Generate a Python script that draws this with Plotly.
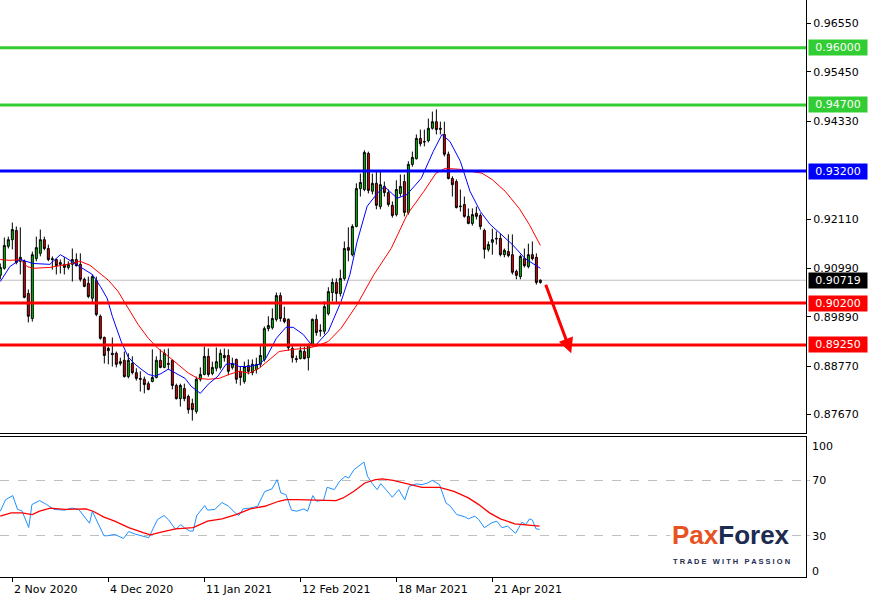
import plotly.graph_objects as go

# ---------------- data ----------------
bar_index = list(range(136))
opens = [0.9083,0.9099,0.9149,0.9164,0.9185,0.9115,0.9115,0.9042,0.8985,0.9121,
         0.9133,0.9164,0.9144,0.9121,0.9119,0.9108,0.9108,0.9101,0.9108,0.9119,
         0.9108,0.9074,0.9065,0.9031,0.9071,0.8990,0.8942,0.8917,0.8906,0.8906,
         0.8883,0.8890,0.8853,0.8883,0.8862,0.8849,0.8847,0.8837,0.8842,0.8851,
         0.8890,0.8874,0.8883,0.8890,0.8833,0.8803,0.8826,0.8808,0.8792,0.8774,
         0.8847,0.8858,0.8899,0.8860,0.8872,0.8874,0.8901,0.8901,0.8874,0.8892,
         0.8865,0.8842,0.8878,0.8862,0.8869,0.8881,0.8892,0.8962,0.8964,0.8983,
         0.9037,0.8985,0.8983,0.8917,0.8894,0.8894,0.8910,0.8896,0.8926,0.8983,
         0.8956,0.8956,0.8996,0.9044,0.9067,0.9042,0.9076,0.9146,0.9130,0.9194,
         0.9280,0.9278,0.9360,0.9274,0.9292,0.9239,0.9285,0.9271,0.9242,0.9221,
         0.9269,0.9296,0.9226,0.9335,0.9348,0.9394,0.9387,0.9389,0.9417,0.9432,
         0.9417,0.9403,0.9358,0.9303,0.9296,0.9239,0.9244,0.9217,0.9201,0.9224,
         0.9219,0.9185,0.9142,0.9158,0.9167,0.9167,0.9130,0.9137,0.9130,0.9092,
         0.9080,0.9121,0.9103,0.9130,0.9124,0.9067]
highs = [0.9110,0.9169,0.9171,0.9203,0.9194,0.9192,0.9119,0.9051,0.9137,0.9171,
         0.9187,0.9171,0.9153,0.9126,0.9121,0.9119,0.9124,0.9115,0.9144,0.9133,
         0.9133,0.9078,0.9080,0.9085,0.9080,0.8994,0.8944,0.8921,0.8942,0.8910,
         0.8896,0.8910,0.8906,0.8899,0.8872,0.8865,0.8853,0.8842,0.8915,0.8899,
         0.8915,0.8915,0.8917,0.8892,0.8837,0.8837,0.8837,0.8812,0.8803,0.8853,
         0.8874,0.8921,0.8917,0.8887,0.8919,0.8915,0.8917,0.8915,0.8896,0.8894,
         0.8876,0.8887,0.8892,0.8892,0.8896,0.8924,0.8967,0.8990,0.9008,0.9044,
         0.9044,0.9012,0.8985,0.8926,0.8901,0.8921,0.8921,0.8928,0.8985,0.8994,
         0.8972,0.9024,0.9056,0.9076,0.9076,0.9096,0.9160,0.9192,0.9199,0.9292,
         0.9314,0.9367,0.9364,0.9314,0.9319,0.9319,0.9296,0.9278,0.9251,0.9299,
         0.9312,0.9312,0.9342,0.9364,0.9403,0.9414,0.9414,0.9439,0.9455,0.9460,
         0.9432,0.9432,0.9364,0.9308,0.9301,0.9278,0.9262,0.9235,0.9235,0.9239,
         0.9224,0.9189,0.9160,0.9189,0.9183,0.9178,0.9144,0.9176,0.9176,0.9096,
         0.9130,0.9144,0.9155,0.9160,0.9133,0.9074]
lows = [0.9074,0.9096,0.9144,0.9142,0.9108,0.9085,0.9031,0.8976,0.8978,0.9115,
        0.9126,0.9140,0.9115,0.9096,0.9085,0.9087,0.9085,0.9096,0.9069,0.9103,
        0.9069,0.9056,0.9031,0.9019,0.8990,0.8937,0.8883,0.8881,0.8876,0.8874,
        0.8878,0.8851,0.8849,0.8858,0.8844,0.8819,0.8815,0.8822,0.8840,0.8849,
        0.8872,0.8872,0.8869,0.8824,0.8801,0.8785,0.8797,0.8769,0.8753,0.8769,
        0.8842,0.8856,0.8853,0.8856,0.8865,0.8869,0.8887,0.8856,0.8869,0.8837,
        0.8833,0.8837,0.8858,0.8856,0.8860,0.8874,0.8887,0.8956,0.8960,0.8978,
        0.8978,0.8974,0.8912,0.8885,0.8885,0.8892,0.8892,0.8867,0.8921,0.8946,
        0.8944,0.8949,0.8992,0.9024,0.9019,0.9035,0.9071,0.9115,0.9126,0.9192,
        0.9262,0.9274,0.9269,0.9267,0.9233,0.9233,0.9262,0.9239,0.9214,0.9217,
        0.9262,0.9217,0.9221,0.9330,0.9346,0.9376,0.9376,0.9385,0.9414,0.9403,
        0.9403,0.9353,0.9301,0.9262,0.9235,0.9228,0.9214,0.9199,0.9196,0.9210,
        0.9187,0.9121,0.9137,0.9130,0.9153,0.9126,0.9124,0.9124,0.9085,0.9074,
        0.9074,0.9101,0.9099,0.9117,0.9062,0.9064]
closes = [0.9101,0.9151,0.9164,0.9187,0.9112,0.9124,0.9033,0.8990,0.9130,0.9146,
          0.9164,0.9144,0.9119,0.9119,0.9105,0.9112,0.9101,0.9108,0.9119,0.9105,
          0.9074,0.9058,0.9035,0.9080,0.8994,0.8940,0.8901,0.8912,0.8903,0.8881,
          0.8887,0.8853,0.8890,0.8862,0.8849,0.8847,0.8835,0.8824,0.8851,0.8890,
          0.8874,0.8906,0.8881,0.8833,0.8803,0.8833,0.8803,0.8778,0.8778,0.8847,
          0.8858,0.8899,0.8858,0.8874,0.8887,0.8906,0.8896,0.8865,0.8883,0.8847,
          0.8851,0.8876,0.8865,0.8881,0.8881,0.8901,0.8962,0.8969,0.8985,0.9037,
          0.8985,0.8978,0.8919,0.8896,0.8892,0.8912,0.8894,0.8926,0.8983,0.8953,
          0.8958,0.9012,0.9046,0.9067,0.9042,0.9076,0.9144,0.9140,0.9194,0.9280,
          0.9294,0.9362,0.9276,0.9292,0.9242,0.9289,0.9271,0.9244,0.9219,0.9278,
          0.9285,0.9226,0.9335,0.9351,0.9394,0.9382,0.9386,0.9417,0.9432,0.9414,
          0.9415,0.9358,0.9303,0.9289,0.9237,0.9240,0.9217,0.9201,0.9221,0.9217,
          0.9194,0.9142,0.9153,0.9164,0.9166,0.9130,0.9140,0.9128,0.9090,0.9083,
          0.9126,0.9105,0.9130,0.9121,0.9067,0.90719]

fast_ma_idx = [0,2.4,5,8.2,12.4,15,16.7,18.2,20.7,23,25,26.7,28,30.2,32,33.7,35.2,37,38.7,40.2,
               42,44.4,46.2,47.7,50,52,54.4,56.4,58.2,59.7,62.2,64.7,66.4,69,71.4,73.2,75.7,77.7,79,82,
               85.2,87.4,89.2,91.7,94.2,96,99.2,101.7,105.2,108.2,110.4,112.4,115,117.4,120,122.4,125,128,131.2,135]
fast_ma = [0.9069,0.9103,0.9119,0.9110,0.9108,0.9130,0.9121,0.9112,0.9099,0.9085,
           0.9058,0.9031,0.8990,0.8933,0.8897,0.8881,0.8870,0.8858,0.8854,0.8860,
           0.8870,0.8858,0.8849,0.8831,0.8815,0.8836,0.8854,0.8881,0.8883,0.8876,
           0.8876,0.8881,0.8895,0.8940,0.8965,0.8965,0.8949,0.8926,0.8926,0.8956,
           0.9024,0.9085,0.9160,0.9240,0.9269,0.9285,0.9258,0.9267,0.9303,0.9364,
           0.9403,0.9387,0.9342,0.9274,0.9228,0.9199,0.9178,0.9153,0.9121,0.9099]

slow_ma_idx = [0,2.4,5,6.7,8.2,12.4,16.7,19.9,22.4,25,27,29.4,32,34.4,37,39.4,42,44.4,47,49.4,
               52,54.7,57.2,59.7,62.2,64.7,67.2,69.7,73.2,76.4,79,82,85.2,89.2,93.4,97.7,101.7,105.9,108.9,111.2,
               114.7,117.9,120.4,122.9,126.2,129.7,132.2,135]
slow_ma = [0.9119,0.9117,0.9119,0.9103,0.9099,0.9101,0.9108,0.9115,0.9106,0.9088,
           0.9072,0.9047,0.9008,0.8972,0.8940,0.8917,0.8899,0.8881,0.8861,0.8849,
           0.8847,0.8849,0.8858,0.8865,0.8861,0.8872,0.8892,0.8910,0.8915,0.8917,
           0.8922,0.8933,0.8963,0.9017,0.9085,0.9144,0.9221,0.9274,0.9315,0.9326,
           0.9324,0.9319,0.9315,0.9301,0.9274,0.9235,0.9199,0.9151]

rsi_idx = [0,1.3,3.1,4.3,5.4,6.7,7.1,7.9,9.8,11.6,13.4,16.1,17.9,19.6,21,22.3,23,24.1,25.9,26.8,
           28.6,30.8,32.1,33.9,37.1,39.3,40.9,42,43.8,45.1,46,47.3,48.2,49.1,51.1,51.8,53.6,55.4,57.1,58.5,
           59.6,60.7,62.5,64.3,66.1,67.9,69.2,70.1,71.4,72.8,74.1,75.9,76.8,78.1,79,80.8,81.7,83.5,84.8,86.2,
           87.1,88.4,89.7,90.9,91.8,92.9,94.2,95.1,96.4,98,99.6,101.1,102.2,104,105.4,106.7,108,109.8,111.4,112.5,
           114.1,116.1,117,118.6,119.6,121,122.8,124.1,125.4,126.8,128.8,130.4,131.3,132.3,133,133.9,134.8]
rsi = [47.7,56,59,49,48,39,36,52.5,55.4,52.5,49,48.5,50,49,44,39,47.7,40.5,30,30,
       31,28,33,31,28.6,41.7,44.6,41.7,34.6,38,35.8,33.4,33.4,44.6,51.8,48.5,49,54,51.3,47,
       44.6,49.4,50,51.3,62,63.8,70.5,61,59.7,48.5,47.7,49.4,47.7,59,55,55.6,65,63.3,69.3,72.9,
       71.7,77.7,80.5,83.2,72.9,68,63.3,67.6,63.3,57.8,63.3,56,65.7,67.4,66.9,68,70,66.9,53.7,51.3,
       45.3,43.7,42.2,44.1,41.7,35.8,39.3,40.5,35.8,37,31.7,39.8,38,42.2,41.3,35,34.6]

rsi_ma_idx = [0,2.7,5.4,8,9.8,12.5,16.1,18.8,21.4,23.2,25.9,28.6,32.1,35.7,37.5,40.2,43.8,48.2,51.8,55.4,
              58.9,62.5,66.1,69.6,71.4,74.1,77.7,81.3,83.9,85.7,88.4,91.1,93.8,95.5,98.2,101.8,105.4,109.8,113.4,117,
              119.6,122.3,125,128.6,131.3,134.8]
rsi_ma = [44.1,46.5,46.5,45.3,47.7,50,49,49,49.4,47.7,43.4,40.5,35.8,32.2,30.7,32.6,35,35.8,40.5,42.2,
          45.3,49.4,51.3,54.9,56.1,56.1,56.1,55.6,55.4,57.3,62.1,68.1,70.5,71,70,67.4,65,65,62.1,57.3,
          52.5,46.5,42.2,38.6,38,37]

date_tick_index = [3, 27, 51, 75, 99, 123]
date_tick_text = ["2 Nov 2020", "4 Dec 2020", "11 Jan 2021", "12 Feb 2021", "18 Mar 2021", "21 Apr 2021"]
price_ticks = [0.9655, 0.9545, 0.9433, 0.9211, 0.9099, 0.8989, 0.8877, 0.8767]
level_prices = [0.9600, 0.9470, 0.9320, 0.9020, 0.8925]
current_price = 0.90719
rsi_levels = [30, 70]
rsi_edge_labels = [100, 0]
arrow_from = (136.2, 0.9065)
arrow_to = (142.7, 0.8906)

# ---------------- styles ----------------
level_colors = ["#32cd32", "#32cd32", "#0000ff", "#ff0000", "#ff0000"]
FONT = "DejaVu Sans"
NAVY = "#1c2b4f"
ORANGE = "#e8521f"

fig = go.Figure()
fig.add_trace(go.Candlestick(
    x=bar_index, open=opens, high=highs, low=lows, close=closes,
    increasing=dict(line=dict(color="black", width=1), fillcolor="#00c800"),
    decreasing=dict(line=dict(color="black", width=1), fillcolor="#f00000"),
    whiskerwidth=0, showlegend=False, hoverinfo="skip", xaxis="x", yaxis="y"))
fig.add_trace(go.Scatter(x=slow_ma_idx, y=slow_ma, mode="lines",
                         line=dict(color="#ff0000", width=1), showlegend=False, xaxis="x", yaxis="y"))
fig.add_trace(go.Scatter(x=fast_ma_idx, y=fast_ma, mode="lines",
                         line=dict(color="#0000ff", width=1), showlegend=False, xaxis="x", yaxis="y"))
fig.add_trace(go.Scatter(x=rsi_idx, y=rsi, mode="lines",
                         line=dict(color="#1e90ff", width=1), showlegend=False, xaxis="x2", yaxis="y2"))
fig.add_trace(go.Scatter(x=rsi_ma_idx, y=rsi_ma, mode="lines",
                         line=dict(color="#ff0000", width=1.3), showlegend=False, xaxis="x2", yaxis="y2"))

shapes = []
for p, c in zip(level_prices, level_colors):
    shapes.append(dict(type="line", xref="paper", x0=0, x1=1, yref="y", y0=p, y1=p,
                       line=dict(color=c, width=3), layer="above"))
shapes.append(dict(type="line", xref="paper", x0=0, x1=1, yref="y", y0=current_price, y1=current_price,
                   line=dict(color="#c0c0c0", width=1), layer="below"))

annotations = []
for p, c in zip(level_prices, level_colors):
    annotations.append(dict(x=1, xref="paper", xanchor="left", xshift=2, y=p, yref="y", yanchor="middle",
                            text=f"{p:.5f}", showarrow=False, bgcolor=c, borderpad=1, width=56,
                            font=dict(family=FONT, size=11, color="white")))
annotations.append(dict(x=1, xref="paper", xanchor="left", xshift=2, y=current_price, yref="y", yanchor="middle",
                        text=f"{current_price:.5f}", showarrow=False, bgcolor="black", borderpad=1, width=56,
                        font=dict(family=FONT, size=11, color="white")))
for i, t in zip(date_tick_index, date_tick_text):
    annotations.append(dict(x=i, xref="x2", xanchor="left", y=0, yref="paper", yanchor="top", yshift=-4,
                            text=t, showarrow=False, font=dict(family=FONT, size=11, color="black")))
for v, yp in zip(rsi_edge_labels, [0.227, 0.0087]):
    annotations.append(dict(x=1, xref="paper", xanchor="left", xshift=4, y=yp, yref="paper", yanchor="middle",
                            text=str(v), showarrow=False, font=dict(family=FONT, size=11, color="black")))
annotations.append(dict(x=arrow_to[0], y=arrow_to[1], xref="x", yref="y",
                        ax=arrow_from[0], ay=arrow_from[1], axref="x", ayref="y",
                        text="", showarrow=True, arrowhead=2, arrowsize=1, arrowwidth=3, arrowcolor="#ff0000"))
# logo
annotations.append(dict(x=731/806, y=(577-535)/577, xref="paper", yref="paper", xanchor="center", yanchor="middle",
                        text=f"<b><span style='color:{ORANGE}'>Pax</span><span style='color:{NAVY}'>Forex</span></b>",
                        showarrow=False, bgcolor="white", font=dict(family="Liberation Sans", size=26)))
annotations.append(dict(x=731/806, y=(577-561)/577, xref="paper", yref="paper", xanchor="center", yanchor="middle",
                        text="<b>T R A D E   W I T H   P A S S I O N</b>",
                        showarrow=False, font=dict(family="Liberation Sans", size=7.5, color=NAVY)))

fig.update_layout(
    width=870, height=600, margin=dict(l=0, r=64, t=0, b=23),
    paper_bgcolor="white", plot_bgcolor="white", showlegend=False,
    shapes=shapes, annotations=annotations,
    xaxis=dict(domain=[0, 1], range=[-0.08, 201.4], anchor="y", showticklabels=False, showgrid=False,
               zeroline=False, showline=True, linecolor="black", linewidth=1, ticks="",
               rangeslider=dict(visible=False)),
    yaxis=dict(domain=[0.2496, 1], range=[0.8725, 0.97084], anchor="x", side="right", showgrid=False,
               zeroline=False, showline=True, linecolor="black", linewidth=1, ticks="outside", ticklen=4,
               tickcolor="black", tickvals=price_ticks, ticktext=[f"{v:.5f}" for v in price_ticks],
               tickfont=dict(family=FONT, size=11, color="black")),
    xaxis2=dict(domain=[0, 1], range=[-0.08, 201.4], anchor="y2", showticklabels=False, showgrid=False,
                zeroline=False, showline=True, mirror=True, linecolor="black", linewidth=1, ticks="outside",
                ticklen=4, tickcolor="black", tickvals=date_tick_index),
    yaxis2=dict(domain=[0, 0.2426], range=[0.2, 101.3], anchor="x2", side="right", showline=True,
                linecolor="black", linewidth=1, zeroline=False, tickvals=rsi_levels, ticks="outside",
                ticklen=3, tickcolor="#c0c0c0", showgrid=True, gridcolor="#c0c0c0", griddash="dash",
                gridwidth=1, tickfont=dict(family=FONT, size=11, color="black")),
)

fig.write_html("out.html", config={"displayModeBar": False},
               post_script="document.body.style.margin='0';document.body.style.overflow='hidden';")
